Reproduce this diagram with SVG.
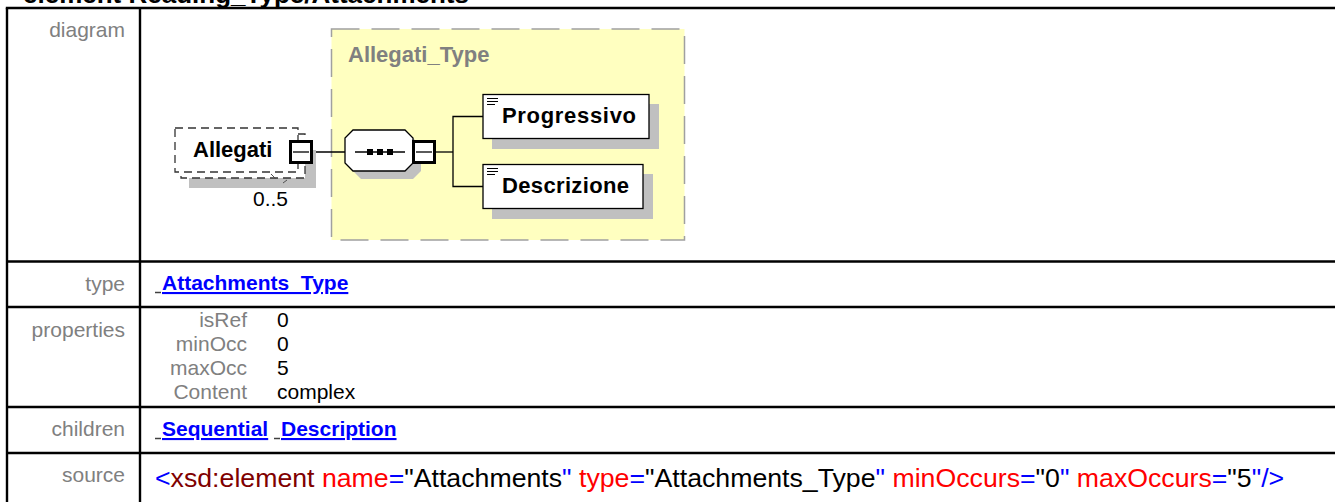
<svg xmlns="http://www.w3.org/2000/svg" width="1335" height="502" viewBox="0 0 1335 502">
<style>
text{font-family:"Liberation Sans",Arial,Helvetica,sans-serif}
.lbl{font-size:21px;fill:#808080;text-anchor:end}
.val{font-size:21px;fill:#000}
.lnk{font-size:21px;font-weight:bold;fill:#0000FF;text-decoration:underline}
.grid line{stroke:#000;stroke-width:2.4}
.shadow{fill:#C0C0C0}
.ebox{fill:#fff;stroke:#000;stroke-width:1.3}
.dbox{fill:#fff;stroke:#333;stroke-width:1.3;stroke-dasharray:8,5}
.ename{font-size:22px;font-weight:bold;fill:#000}
.conn{stroke:#000;stroke-width:1.3;fill:none}
.btn{fill:#fff;stroke:#000;stroke-width:3}
.minus{stroke:#000;stroke-width:1.3}
.tick{stroke:#404040;stroke-width:1.5}
</style>
<rect width="1335" height="502" fill="#fff"/>
<text x="23" y="3" font-size="26" font-weight="bold" fill="#000">element Reading_Type/Attachments</text>
<g id="table" class="grid">
<line x1="5.8" y1="8" x2="1335" y2="8"/>
<line x1="7" y1="8" x2="7" y2="502"/>
<line x1="140" y1="8" x2="140" y2="502"/>
<line x1="7" y1="261.5" x2="1335" y2="261.5"/>
<line x1="7" y1="307" x2="1335" y2="307"/>
<line x1="7" y1="407" x2="1335" y2="407"/>
<line x1="7" y1="453" x2="1335" y2="453"/>
</g>
<g id="labels">
<text class="lbl" x="125" y="37">diagram</text>
<text class="lbl" x="125" y="291">type</text>
<text class="lbl" x="125" y="337">properties</text>
<text class="lbl" x="125" y="436">children</text>
<text class="lbl" x="125" y="482">source</text>
</g>
<g id="type-row">
<line class="tick" x1="155" y1="292.5" x2="161" y2="292.5"/>
<text class="lnk" x="162" y="290">Attachments_Type</text>
</g>
<g id="properties-row">
<text class="lbl" x="247" y="327">isRef</text>
<text class="lbl" x="247" y="351">minOcc</text>
<text class="lbl" x="247" y="375">maxOcc</text>
<text class="lbl" x="247" y="399">Content</text>
<text class="val" x="277" y="327">0</text>
<text class="val" x="277" y="351">0</text>
<text class="val" x="277" y="375">5</text>
<text class="val" x="277" y="399">complex</text>
</g>
<g id="children-row">
<line class="tick" x1="155" y1="438.5" x2="161" y2="438.5"/>
<text class="lnk" x="162" y="436">Sequential</text>
<line class="tick" x1="274" y1="438.5" x2="280" y2="438.5"/>
<text class="lnk" x="281" y="436">Description</text>
</g>
<g id="source-row">
<text x="155" y="487" font-size="26.7" fill="#000"><tspan fill="#0000FF">&lt;</tspan><tspan fill="#800000">xsd:element</tspan> <tspan fill="#FF0000">name</tspan><tspan fill="#0000FF">=</tspan>"Attachments<tspan fill="#0000FF">"</tspan> <tspan fill="#FF0000">type</tspan><tspan fill="#0000FF">=</tspan>"Attachments_Type<tspan fill="#0000FF">"</tspan> <tspan fill="#FF0000">minOccurs</tspan><tspan fill="#0000FF">=</tspan>"0<tspan fill="#0000FF">"</tspan> <tspan fill="#FF0000">maxOccurs</tspan><tspan fill="#0000FF">=</tspan>"5<tspan fill="#0000FF">"/&gt;</tspan></text>
</g>
<g id="Allegati_Type">
<rect x="331.5" y="29" width="353" height="211" fill="#FFFFC0" stroke="#A0A0A0" stroke-width="1.5" stroke-dasharray="28,12"/>
<text x="348" y="62" font-size="22" font-weight="bold" fill="#808080">Allegati_Type</text>
</g>
<g id="connectors" class="conn">
<line x1="312" y1="152" x2="345" y2="152"/>
<line x1="435" y1="152" x2="453" y2="152"/>
<path d="M483,116.5 H453 V186.5 H483"/>
</g>
<g id="Allegati">
<rect class="shadow" x="189" y="150" width="127" height="38"/>
<rect class="dbox" x="181" y="134" width="124" height="44"/>
<rect class="dbox" x="175" y="128" width="123" height="44"/>
<text class="ename" x="193" y="157">Allegati</text>
<rect class="btn" x="290.5" y="141.5" width="21" height="21"/>
<line class="minus" x1="293" y1="152" x2="309" y2="152"/>
<text x="253" y="206" font-size="21" fill="#000">0..5</text>
<path d="M271,174 L276,179 M283,183 L287,180" stroke="#505050" stroke-width="1" fill="none"/>
</g>
<g id="sequence">
<polygon class="shadow" points="361,138 413,138 421,146 421,171 413,179 361,179 353,171 353,146"/>
<polygon points="353,130 405,130 413,138 413,163 405,171 353,171 345,163 345,138" fill="#fff" stroke="#000" stroke-width="1.3"/>
<line x1="355" y1="152" x2="405" y2="152" stroke="#000" stroke-width="1.3"/>
<rect x="367" y="149" width="6" height="6" fill="#000"/>
<rect x="377" y="149" width="6" height="6" fill="#000"/>
<rect x="387" y="149" width="6" height="6" fill="#000"/>
<rect class="btn" x="413.5" y="141.5" width="21" height="21"/>
<line class="minus" x1="416" y1="152" x2="432" y2="152"/>
</g>
<g id="Progressivo">
<rect class="shadow" x="492" y="104" width="167" height="45"/>
<rect class="ebox" x="483" y="94.5" width="166" height="44"/>
<path d="M487,98.5h11M487,101.5h11M487,104.5h8" stroke="#000" stroke-width="1"/>
<text class="ename" x="502" y="123" textLength="134" lengthAdjust="spacing">Progressivo</text>
</g>
<g id="Descrizione">
<rect class="shadow" x="492" y="174" width="161" height="45"/>
<rect class="ebox" x="483" y="164.5" width="160" height="44"/>
<path d="M487,168.5h11M487,171.5h11M487,174.5h8" stroke="#000" stroke-width="1"/>
<text class="ename" x="502" y="193" textLength="127" lengthAdjust="spacing">Descrizione</text>
</g>
</svg>
